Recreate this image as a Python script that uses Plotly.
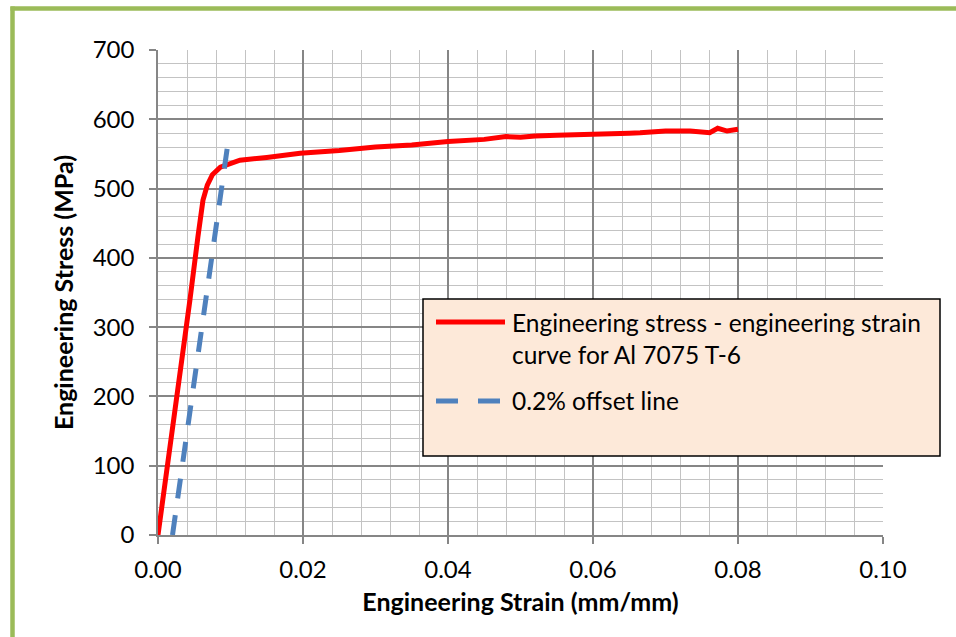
import plotly.graph_objects as go

# ---- data ----
strain_curve = [0.0, 0.0015, 0.003, 0.0044, 0.0055, 0.0062, 0.0068, 0.0075, 0.0086, 0.0100,
                0.0113, 0.015, 0.0196, 0.025, 0.030, 0.035, 0.040, 0.045, 0.048, 0.050,
                0.052, 0.055, 0.060, 0.063, 0.065, 0.0665, 0.070, 0.0734, 0.0752, 0.0761,
                0.0772, 0.0785, 0.0800]
stress_curve = [0, 112, 224, 339, 430, 483, 505, 520, 531, 537,
                541, 545, 551, 555, 560, 563, 568, 571, 575, 574,
                576, 577, 579, 581, 580, 580.5, 583, 583, 582, 580.5,
                587, 583, 585.5]
strain_offset = [0.0020, 0.0098]
stress_offset = [0, 577]

x_ticks = [0.0, 0.02, 0.04, 0.06, 0.08, 0.10]
x_ticklabels = ["0.00", "0.02", "0.04", "0.06", "0.08", "0.10"]
y_ticks = [0, 100, 200, 300, 400, 500, 600, 700]

name_curve = "Engineering stress - engineering strain<br>curve for Al 7075 T-6"
name_offset = "0.2% offset line"

FONT = "Lato"
W, H = 956, 637
L, R, T, B = 158, 73, 50, 102
PW, PH = W - L - R, H - T - B


def px_x(p):
    return (p - L) / PW


def px_y(p):
    return (H - B - p) / PH


fig = go.Figure()
fig.add_trace(go.Scatter(x=strain_curve, y=stress_curve, mode="lines",
                         line=dict(color="#ff0000", width=5), showlegend=False,
                         name="curve"))
fig.add_trace(go.Scatter(x=strain_offset, y=stress_offset, mode="lines",
                         line=dict(color="#4f81bd", width=5, dash="20px,17px"),
                         showlegend=False, name="offset"))

major = "#868686"
minor = "#c3c3c3"

fig.update_xaxes(range=[0, 0.10], tickvals=x_ticks, ticktext=x_ticklabels,
                 showgrid=True, gridcolor=major, gridwidth=1.6,
                 minor=dict(dtick=0.004, showgrid=True, gridcolor=minor, gridwidth=1.3, ticks=""),
                 showline=True, linecolor=major, linewidth=1.6, zeroline=False,
                 ticks="outside", ticklen=7, tickcolor=major, tickwidth=1.6,
                 tickfont=dict(family=FONT, size=24, color="black"),
                 ticklabelstandoff=5,
                 title=dict(text="<b>Engineering Strain (mm/mm)</b>", standoff=12,
                            font=dict(family=FONT, size=25, color="black")))
fig.update_yaxes(range=[0, 700], tickvals=y_ticks,
                 showgrid=True, gridcolor=major, gridwidth=1.6,
                 minor=dict(dtick=20, showgrid=True, gridcolor=minor, gridwidth=1.3, ticks=""),
                 showline=True, linecolor=major, linewidth=1.6, zeroline=False,
                 ticks="outside", ticklen=7, tickcolor=major, tickwidth=1.6,
                 tickfont=dict(family=FONT, size=24, color="black"),
                 ticklabelstandoff=10,
                 title=dict(text="<b>Engineering Stress (MPa)</b>", standoff=12,
                            font=dict(family=FONT, size=25, color="black")))

shapes = []
# outer green frame (top and left edges)
shapes.append(dict(type="line", xref="paper", yref="paper",
                   x0=px_x(10.5), x1=px_x(956), y0=px_y(8.5), y1=px_y(8.5),
                   line=dict(color="#9bbb59", width=4.5), layer="above"))
shapes.append(dict(type="line", xref="paper", yref="paper",
                   x0=px_x(12.5), x1=px_x(12.5), y0=px_y(6.5), y1=px_y(637),
                   line=dict(color="#9bbb59", width=4.5), layer="above"))
# legend box
shapes.append(dict(type="rect", xref="paper", yref="paper",
                   x0=px_x(423), x1=px_x(940), y0=px_y(299), y1=px_y(456),
                   line=dict(color="black", width=1.5), fillcolor="#fde9d9",
                   layer="above"))
# legend samples
shapes.append(dict(type="line", xref="paper", yref="paper",
                   x0=px_x(436), x1=px_x(505), y0=px_y(322), y1=px_y(322),
                   line=dict(color="#ff0000", width=5), layer="above"))
shapes.append(dict(type="line", xref="paper", yref="paper",
                   x0=px_x(436), x1=px_x(500), y0=px_y(401), y1=px_y(401),
                   line=dict(color="#4f81bd", width=5, dash="22px,20px"), layer="above"))

annotations = [
    dict(xref="paper", yref="paper", x=px_x(510), y=px_y(338), xanchor="left", yanchor="middle",
         text=name_curve, align="left",
         showarrow=False, font=dict(family=FONT, size=24.5, color="black")),
    dict(xref="paper", yref="paper", x=px_x(510), y=px_y(400), xanchor="left", yanchor="middle",
         text=name_offset, align="left",
         showarrow=False, font=dict(family=FONT, size=24.5, color="black")),
]

fig.update_layout(width=W, height=H, margin=dict(l=L, r=R, t=T, b=B, autoexpand=False),
                  paper_bgcolor="white", plot_bgcolor="white",
                  shapes=shapes, annotations=annotations, showlegend=False,
                  font=dict(family=FONT, color="black"))

fig.write_html("out.html")
